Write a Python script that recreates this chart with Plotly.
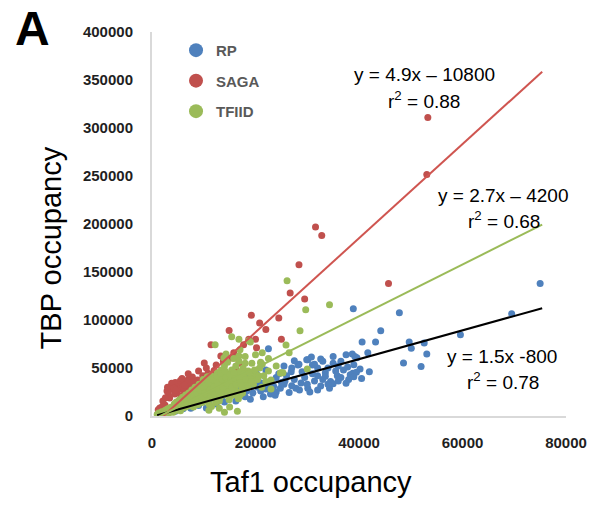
import plotly.graph_objects as go

# ---- RP promoters: Taf1 occupancy (x) vs TBP occupancy (y)
rp_x = [75000, 69500, 59600, 47800, 44200, 38900, 53100, 52600, 50100, 49700,
        48600, 52000, 43200, 40600, 41700, 39600, 37500, 38700, 39200, 35800,
        38300, 38800, 34300, 33000, 32000, 31000, 30100, 28200, 26900, 28400,
        29900, 31400, 32600, 35000, 36000, 37000, 36500, 34000, 33500, 35500,
        37800, 39000, 40200, 22500, 18100, 20200, 21100, 22900, 24800, 25700,
        28800, 30100, 31400, 32600, 27800, 16800, 14900, 10500, 12400, 18300,
        16200, 13500, 24000, 26000, 27500, 29500, 31000, 33000, 30000, 27000,
        25500, 23500, 22000, 20500, 19500, 18000, 21500, 24000, 26500, 28500,
        30500, 32000, 34500, 36500, 35000, 33500, 38000, 39500, 23000, 24500,
        27000, 29000, 22000, 20000, 17500, 15500, 13000, 11000, 9000, 7500,
        6000, 4500, 3000, 19000, 17000, 14000, 25500, 32000, 34000, 36000,
        37500, 39000, 40500, 42000, 35000, 30800, 27500, 19500, 21000, 22500,
        23800, 25000]
rp_y = [138000, 106500, 84600, 107500, 88700, 111700, 64700, 76000, 70500, 77000,
        55300, 51500, 77000, 77000, 65800, 60600, 63700, 64700, 62000, 42000,
        43000, 44500, 29000, 57000, 50000, 53000, 58500, 53000, 46000, 54000,
        58500, 54000, 59500, 55000, 52000, 48000, 57000, 50000, 45000, 47000,
        51000, 53500, 49000, 70000, 41800, 43800, 34500, 23000, 29000, 36500,
        34500, 29000, 36500, 31300, 29000, 29000, 23000, 8400, 12500, 26000,
        15700, 18800, 40000, 42000, 38000, 40000, 44000, 38000, 33000, 31500,
        33000, 31000, 28000, 30000, 24000, 20000, 20000, 25000, 24500, 27000,
        25000, 27000, 36000, 40000, 33500, 41500, 38000, 45500, 36000, 44000,
        50000, 46000, 48000, 36000, 33000, 26500, 21000, 15000, 11000, 8000,
        7500, 5000, 3500, 17500, 22500, 14500, 52000, 42000, 33000, 36500,
        34000, 41000, 39000, 46000, 62000, 61500, 57500, 31000, 26000, 33500,
        21500, 35000]

# ---- SAGA-dominated promoters
saga_x = [53300, 53100, 45700, 31600, 32800, 28400, 26700, 29500, 19200, 20800,
          24500, 14900, 25000, 18700, 20000, 11400, 17700, 20200, 15800, 13300,
          15400, 10100, 12400, 10500, 16200, 14900, 12600, 7800, 9500, 8200,
          11000, 5900, 5000, 4000, 5300, 6700, 2900, 4400, 3400, 2100,
          1500, 1100, 6500, 7200, 3600, 4800, 5600, 6200, 8800, 9300,
          10800, 12000, 13800, 11700, 2500, 1800, 7500, 9800, 16800, 22000,
          4500, 5500, 6000, 7000, 7500, 8000, 8500, 6800, 3800, 4200,
          3200, 2600, 1200, 2000, 5800, 9000, 7000, 3000, 4600, 6300]
saga_y = [311000, 251600, 138000, 197000, 188000, 157600, 128000, 122000, 105000, 97000,
          102000, 89000, 80000, 80000, 80000, 74100, 74100, 71000, 65800, 62600,
          60500, 55300, 53200, 50000, 50000, 40700, 39700, 40700, 34500, 31300,
          29200, 33400, 32400, 31300, 28200, 29200, 26000, 23000, 18800, 15700,
          8400, 2100, 36000, 34500, 27500, 24500, 21000, 26500, 37500, 28000,
          44500, 47500, 57000, 34500, 11500, 5500, 23500, 42000, 55000, 90000,
          35000, 37000, 31000, 38000, 33000, 36000, 33000, 35500, 34000, 29000,
          22000, 19000, 6500, 10000, 39000, 47000, 44000, 30000, 27000, 32000]

# ---- TFIID-dominated promoters
tfiid_x = [26100, 34300, 29700, 28600, 15400, 16800, 25900, 26500, 20000, 21300,
           21300, 25000, 30000, 23000, 20000, 19000, 12200, 13900, 18700, 24800,
           16800, 1000, 1300, 1600, 1900, 2200, 2500, 2700, 3000, 3200,
           3400, 3600, 3800, 4000, 4200, 4400, 4600, 4800, 5000, 5200,
           5400, 5600, 5800, 6000, 6200, 6400, 6600, 6800, 7000, 7200,
           7400, 7600, 7800, 8000, 8200, 8400, 8600, 8800, 9000, 9200,
           9400, 9600, 9800, 10000, 10200, 10400, 10600, 10800, 11000, 11200,
           11400, 11600, 11800, 12000, 12200, 12400, 12600, 12800, 13000, 13200,
           13400, 13600, 13800, 14000, 14200, 14400, 14600, 14800, 15000, 15200,
           15400, 15600, 15800, 16000, 16200, 16400, 16600, 16800, 17000, 17200,
           17400, 17600, 17800, 18000, 18300, 18600, 19000, 19300, 19600, 20000,
           20400, 20800, 21200, 21600, 22000, 22500, 23000, 9000, 7000, 11000,
           13000, 15000, 17000, 8000, 5500, 3500, 11000, 13000, 15000, 16500,
           14000, 2000, 2400, 2800, 3100, 3300, 3700, 3900, 4100, 4300,
           4500, 4700, 4900, 5100, 5300, 5500, 5700, 5900, 6100, 6300,
           6500, 6700, 6900, 7100, 7300, 7500, 7700, 7900, 8100, 8300,
           8500, 8700, 8900, 9100, 9300, 9500, 9700, 9900, 10100, 10300,
           10500, 10700, 10900, 11100, 11300, 11500, 11700, 11900, 12100, 12300,
           12500, 12700, 12900, 13100, 13300, 13500, 13700, 13900, 14100, 14300,
           14500, 14700, 14900, 15100, 15300, 15500, 15700, 15900, 16100, 16300,
           16500, 16700, 16900, 17100, 17300, 17500, 17700, 18100, 18500, 18900,
           19200, 19800, 20600, 21000, 14300, 18000, 21000, 25300, 17000, 22500,
           24000]
tfiid_y = [141000, 116000, 110600, 88700, 82500, 80000, 74000, 65800, 63700, 65800,
           54000, 45000, 49000, 37600, 40700, 77000, 74100, 60500, 78300, 44900,
           62600, 1500, 3000, 2200, 4500, 3100, 5800, 4000, 7200, 5100,
           3600, 8800, 6400, 4900, 10100, 7600, 5600, 12000, 9000, 6800,
           14200, 10500, 7800, 16500, 12300, 9100, 19000, 14000, 10400, 21500,
           16000, 11600, 24500, 18200, 13000, 27000, 20500, 14500, 30000, 23000,
           16800, 33500, 26000, 18500, 36000, 28500, 21000, 39000, 31000, 23500,
           42000, 33500, 26000, 18000, 37000, 29000, 45000, 40000, 32000, 24000,
           48000, 36000, 27500, 52000, 41000, 31000, 56000, 44000, 35000, 26000,
           48000, 38000, 60000, 30000, 52000, 42000, 34000, 57000, 46000, 38000,
           28000, 50000, 42000, 62000, 35000, 47000, 40000, 55000, 33000, 44000,
           38000, 50000, 30000, 42000, 36000, 47000, 28000, 19500, 13000, 12500,
           15500, 20000, 22000, 9500, 5500, 4500, 6000, 8000, 9500, 5000,
           4000, 2500, 4200, 6500, 3000, 8000, 5500, 9500, 3800, 12500,
           9000, 14500, 6500, 11500, 17000, 8500, 13000, 19500, 10000, 15000,
           22000, 11500, 17500, 24000, 13500, 19000, 27000, 15000, 21500, 30000,
           17000, 24000, 12000, 33000, 27000, 20000, 14000, 38000, 30000, 24000,
           16000, 41000, 34000, 27000, 19000, 10000, 38000, 30000, 22000, 14000,
           42000, 34000, 27000, 19000, 44000, 38000, 30000, 22000, 47000, 40000,
           34000, 25000, 17000, 43000, 37000, 30000, 22000, 45000, 39000, 33000,
           25000, 18000, 40000, 35000, 31000, 24000, 44000, 38000, 30000, 45000,
           36000, 48000, 42000, 56000, 64700, 55000, 55000, 45000, 69000, 60000,
           52000]

# ---- linear fits (slope, intercept)
fit_rp = (1.5, -800)
fit_saga = (4.9, -10800)
fit_tfiid = (2.7, -4200)
fit_x = [1000, 75400]

series_names = ["RP", "SAGA", "TFIID"]
blue, red, green = "#4F81BD", "#C0504D", "#9BBB59"

fig = go.Figure()

marker_size = 7
for xs, ys, col in [(rp_x, rp_y, blue), (saga_x, saga_y, red), (tfiid_x, tfiid_y, green)]:
    fig.add_trace(go.Scatter(x=xs, y=ys, mode="markers", showlegend=False,
                             marker=dict(size=marker_size, color=col, line=dict(width=0)),
                             cliponaxis=False, hoverinfo="skip"))

# trend lines drawn above the points
for (m, b), col in [(fit_rp, "#000000"), (fit_saga, "#CF5550"), (fit_tfiid, "#9BBB59")]:
    fig.add_trace(go.Scatter(x=fit_x, y=[m * v + b for v in fit_x], mode="lines",
                             showlegend=False, line=dict(color=col, width=2),
                             hoverinfo="skip"))

# legend entries with large circular swatches
for name, col in zip(series_names, [blue, red, green]):
    fig.add_trace(go.Scatter(x=[None], y=[None], mode="markers", name=name,
                             legendgroup=name,
                             marker=dict(size=14, color=col)))

eq_font = dict(family="Liberation Sans, Arial, sans-serif", size=19, color="#000000")
ann = [
    dict(x=0.658, y=0.889, text="y = 4.9x – 10800"),
    dict(x=0.658, y=0.823, text="r<sup>2</sup> = 0.88"),
    dict(x=0.848, y=0.575, text="y = 2.7x – 4200"),
    dict(x=0.850, y=0.510, text="r<sup>2</sup> = 0.68"),
    dict(x=0.845, y=0.154, text="y = 1.5x -800"),
    dict(x=0.848, y=0.091, text="r<sup>2</sup> = 0.78"),
]
annotations = [dict(xref="paper", yref="paper", showarrow=False, font=eq_font,
                    xanchor="center", yanchor="middle", **a) for a in ann]
title_font = dict(family="Liberation Sans, Arial, sans-serif", size=29, color="#000000")
annotations += [
    dict(xref="paper", yref="paper", x=-0.243, y=0.4375, text="TBP occupancy",
         textangle=-90, showarrow=False, font=title_font,
         xanchor="center", yanchor="middle"),
    dict(xref="paper", yref="paper", x=0.383, y=-0.172, text="Taf1 occupancy",
         showarrow=False, font=title_font, xanchor="center", yanchor="middle"),
    dict(xref="paper", yref="paper", x=-0.289, y=1.008, text="<b>A</b>",
         showarrow=False, xanchor="center", yanchor="middle",
         font=dict(family="Liberation Sans, Arial, sans-serif", size=48, color="#000000")),
]

tick_font = dict(family="Liberation Sans, Arial, sans-serif", size=15, color="#1F1F1F",
                 weight="bold")

fig.update_layout(
    width=599, height=505,
    margin=dict(l=152, r=27, t=32, b=89),
    paper_bgcolor="white", plot_bgcolor="white",
    showlegend=True,
    legend=dict(x=0.058, y=0.995, xanchor="left", yanchor="top",
                font=dict(family="Liberation Sans, Arial, sans-serif", size=15,
                          color="#595959", weight="bold"),
                tracegroupgap=8, bgcolor="rgba(0,0,0,0)", itemsizing="trace"),
    xaxis=dict(range=[0, 80000], tickvals=[0, 20000, 40000, 60000, 80000],
               ticktext=["0", "20000", "40000", "60000", "80000"],
               showgrid=False, zeroline=False, showline=True, linecolor="#D9D9D9",
               linewidth=2, ticks="", tickfont=tick_font, ticklabelstandoff=12),
    yaxis=dict(range=[0, 400000],
               tickvals=[0, 50000, 100000, 150000, 200000, 250000, 300000, 350000, 400000],
               ticktext=["0", "50000", "100000", "150000", "200000", "250000",
                         "300000", "350000", "400000"],
               showgrid=False, zeroline=False, showline=True, linecolor="#D9D9D9",
               linewidth=2, ticks="", tickfont=tick_font, ticklabelstandoff=14),
    annotations=annotations,
)

fig.write_html("out.html")
